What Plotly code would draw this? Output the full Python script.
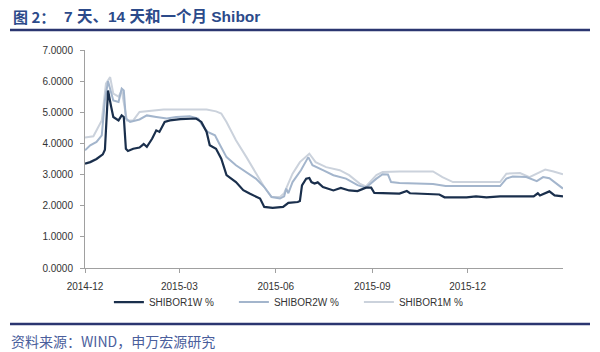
import plotly.graph_objects as go

# ---- data ----
dates_1w = ["2014-12-01","2014-12-06","2014-12-12","2014-12-18","2014-12-20","2014-12-23","2014-12-26","2014-12-28",
            "2015-01-02","2015-01-05","2015-01-07","2015-01-09","2015-01-11","2015-01-16","2015-01-22","2015-01-26",
            "2015-01-29","2015-02-03","2015-02-07","2015-02-10","2015-02-15","2015-02-20","2015-03-02","2015-03-11",
            "2015-03-17","2015-03-22","2015-03-27","2015-03-30","2015-04-05","2015-04-10","2015-04-15","2015-04-24",
            "2015-05-01","2015-05-07","2015-05-17","2015-05-21","2015-05-29","2015-06-08","2015-06-13","2015-06-22",
            "2015-06-24","2015-06-26","2015-06-30","2015-07-03","2015-07-05","2015-07-08","2015-07-11","2015-07-16",
            "2015-07-26","2015-08-02","2015-08-10","2015-08-18","2015-08-26","2015-08-31","2015-09-03","2015-09-27",
            "2015-10-04","2015-10-07","2015-11-04","2015-11-09","2015-11-30","2015-12-09","2015-12-19","2016-01-01",
            "2016-01-23","2016-02-02","2016-02-06","2016-02-08","2016-02-17","2016-02-22","2016-03-01"]
shibor_1w = [3.35,3.40,3.50,3.65,3.80,5.70,5.17,4.85,
             4.74,4.90,4.85,3.83,3.76,3.83,3.87,3.98,
             3.89,4.15,4.42,4.37,4.69,4.74,4.78,4.80,
             4.80,4.69,4.37,3.94,3.83,3.51,2.98,2.76,
             2.50,2.39,2.23,1.96,1.93,1.96,2.09,2.12,
             2.15,2.65,2.87,2.89,2.76,2.71,2.75,2.60,
             2.49,2.57,2.49,2.47,2.58,2.58,2.41,2.39,
             2.47,2.40,2.36,2.27,2.27,2.30,2.27,2.30,
             2.30,2.30,2.40,2.33,2.46,2.33,2.30]

dates_2w = ["2014-12-01","2014-12-06","2014-12-12","2014-12-17","2014-12-20","2014-12-23","2014-12-28","2015-01-02",
            "2015-01-05","2015-01-07","2015-01-09","2015-01-13","2015-01-22","2015-01-29","2015-02-07","2015-02-17",
            "2015-02-26","2015-03-11","2015-03-19","2015-03-23","2015-03-28","2015-04-04","2015-04-08","2015-04-15",
            "2015-04-24","2015-05-04","2015-05-13","2015-05-21","2015-05-28","2015-06-05","2015-06-09","2015-06-11",
            "2015-06-13","2015-06-17","2015-06-25","2015-07-02","2015-07-06","2015-07-16","2015-07-26","2015-08-07",
            "2015-08-18","2015-08-26","2015-09-05","2015-09-11","2015-09-16","2015-09-19","2015-09-27","2015-10-29",
            "2015-11-10","2016-01-01","2016-01-07","2016-01-13","2016-01-26","2016-02-05","2016-02-11","2016-02-17",
            "2016-02-24","2016-03-01"]
shibor_2w = [3.78,3.94,4.05,4.26,5.38,6.00,5.38,5.33,
             5.76,5.70,4.80,4.69,4.77,4.90,4.85,4.80,
             4.85,4.87,4.80,4.58,4.37,4.26,4.00,3.56,
             3.30,3.08,2.87,2.60,2.28,2.23,2.30,2.55,
             2.40,2.76,3.14,3.56,3.30,3.14,2.98,2.87,
             2.66,2.58,2.87,3.01,3.00,2.76,2.73,2.70,
             2.63,2.63,2.87,2.94,2.92,2.79,2.92,2.88,
             2.71,2.55]

dates_1m = ["2014-12-01","2014-12-09","2014-12-17","2014-12-21","2014-12-25","2014-12-28","2015-01-02","2015-01-05",
            "2015-01-10","2015-01-16","2015-01-22","2015-02-03","2015-02-14","2015-03-02","2015-03-27","2015-04-05",
            "2015-04-10","2015-04-15","2015-04-24","2015-05-04","2015-05-13","2015-05-21","2015-05-28","2015-06-05",
            "2015-06-09","2015-06-17","2015-06-24","2015-07-03","2015-07-09","2015-07-19","2015-08-01","2015-08-10",
            "2015-08-20","2015-08-26","2015-09-05","2015-09-11","2015-09-27","2015-10-29","2015-11-07","2015-11-17",
            "2016-01-01","2016-01-07","2016-01-20","2016-01-29","2016-02-08","2016-02-13","2016-02-21","2016-03-01"]
shibor_1m = [4.19,4.23,4.74,5.92,6.13,5.60,5.50,5.70,
             4.74,4.74,5.01,5.06,5.09,5.09,5.09,5.03,
             4.96,4.69,4.10,3.56,3.03,2.60,2.28,2.28,
             2.40,3.03,3.40,3.67,3.40,3.24,3.14,2.98,
             2.71,2.62,2.98,3.08,3.10,3.10,2.92,2.76,
             2.76,3.03,3.05,2.92,3.08,3.16,3.10,3.01]

series_names = ["SHIBOR1W %", "SHIBOR2W %", "SHIBOR1M %"]
tick_dates = ["2014-12-01", "2015-03-01", "2015-06-01", "2015-09-01", "2015-12-01"]
tick_labels = ["2014-12", "2015-03", "2015-06", "2015-09", "2015-12"]
y_ticks = [0, 1, 2, 3, 4, 5, 6, 7]

colors = ["#1a2f4c", "#a3b5cc", "#cbd2dc"]
widths = [2.2, 2, 2]

fig = go.Figure()
for d, v, name, c, w in zip([dates_1w, dates_2w, dates_1m],
                            [shibor_1w, shibor_2w, shibor_1m],
                            series_names, colors, widths):
    fig.add_trace(go.Scatter(x=d, y=v, mode="lines", name=name,
                             line=dict(color=c, width=w)))

# draw 1W on top
fig.data = (fig.data[2], fig.data[1], fig.data[0])

axis_col = "#a0a0a0"
fig.update_layout(
    width=600, height=352,
    margin=dict(l=85, r=37, t=50, b=84),
    paper_bgcolor="white", plot_bgcolor="white",
    font=dict(family="Liberation Sans, Arial, sans-serif", size=10, color="#333333"),
    showlegend=True,
    legend=dict(orientation="h", x=0.05, y=-0.09, xanchor="left", yanchor="top",
                traceorder="reversed",
                entrywidth=80, entrywidthmode="pixels",
                font=dict(size=10, color="#333333"), itemwidth=30,
                bgcolor="rgba(0,0,0,0)"),
    xaxis=dict(type="date", range=["2014-12-01", "2016-03-01"],
               tickvals=tick_dates, ticktext=tick_labels,
               showgrid=False, zeroline=False,
               showline=True, linecolor=axis_col, linewidth=1,
               ticks="outside", ticklen=4, tickcolor=axis_col,
               ticklabelstandoff=5,
               tickfont=dict(size=10, color="#333333")),
    yaxis=dict(range=[0, 7], tickvals=y_ticks, tickformat=".4f",
               showgrid=False, zeroline=False,
               showline=True, linecolor=axis_col, linewidth=1,
               ticks="outside", ticklen=4, tickcolor=axis_col,
               ticklabelstandoff=5,
               tickfont=dict(size=10, color="#333333")),
)

# header / footer decorations (paper coords relative to plot area)
pw, ph = 478.0, 218.0
def px_x(x):
    return (x - 85) / pw
def px_y(y):
    return (268 - y) / ph

fig.add_shape(type="line", xref="paper", yref="paper",
              x0=px_x(10), x1=px_x(590), y0=px_y(30), y1=px_y(30),
              line=dict(color="#2b3670", width=2.5))
fig.add_shape(type="line", xref="paper", yref="paper",
              x0=px_x(10), x1=px_x(590), y0=px_y(324), y1=px_y(324),
              line=dict(color="#2b3670", width=2.5))

fig.add_annotation(xref="paper", yref="paper", x=px_x(11), y=px_y(17),
                   xanchor="left", yanchor="middle", showarrow=False,
                   text="<b>图 2：</b>",
                   font=dict(family="Noto Sans CJK SC, Liberation Sans", size=15, color="#2c4a8a"))
fig.add_annotation(xref="paper", yref="paper", x=px_x(62), y=px_y(17),
                   xanchor="left", yanchor="middle", showarrow=False,
                   text="<b>7 天、14 天和一个月 Shibor</b>",
                   font=dict(family="Liberation Sans, Noto Sans CJK SC", size=15.5, color="#2c4a8a"))
fig.add_annotation(xref="paper", yref="paper", x=px_x(9), y=px_y(341),
                   xanchor="left", yanchor="middle", showarrow=False,
                   text="资料来源：WIND，申万宏源研究",
                   font=dict(family="Noto Sans CJK SC, Liberation Sans", size=14, color="#4a5e9c"))

fig.write_html("out.html")
